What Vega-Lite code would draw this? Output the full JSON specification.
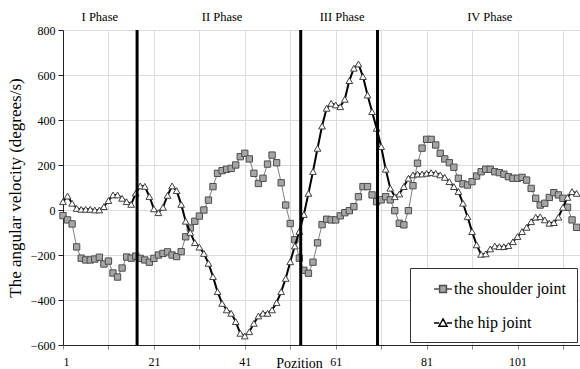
{
  "$schema": "https://vega.github.io/schema/vega-lite/v6.json",
  "autosize": {"type": "none"},
  "padding": {"left": 63, "top": 30, "right": 0, "bottom": 24},
  "width": 517,
  "height": 315,
  "config": {
    "font": "Liberation Serif",
    "view": {"stroke": null},
    "legend": {
      "orient": "none",
      "legendX": 347,
      "legendY": 238,
      "strokeColor": "#333",
      "fillColor": "#fff",
      "padding": 11,
      "labelFont": "Liberation Serif",
      "labelFontSize": 16,
      "labelColor": "#000",
      "symbolSize": 324,
      "symbolStrokeWidth": 1.5,
      "symbolOpacity": 1,
      "symbolOffset": 12,
      "rowPadding": 16,
      "labelOffset": 1,
      "title": null
    }
  },
  "datasets": {
    "joints": [
      {"p":1,"shoulder":-25,"hip":37},{"p":2,"shoulder":-44,"hip":62},{"p":3,"shoulder":-62,"hip":30},{"p":4,"shoulder":-164,"hip":7},{"p":5,"shoulder":-214,"hip":3},
      {"p":6,"shoulder":-222,"hip":3},{"p":7,"shoulder":-222,"hip":3},{"p":8,"shoulder":-218,"hip":0},{"p":9,"shoulder":-210,"hip":0},{"p":10,"shoulder":-240,"hip":15},
      {"p":11,"shoulder":-227,"hip":42},{"p":12,"shoulder":-280,"hip":67},{"p":13,"shoulder":-298,"hip":67},{"p":14,"shoulder":-258,"hip":52},{"p":15,"shoulder":-209,"hip":37},
      {"p":16,"shoulder":-214,"hip":25},{"p":17,"shoulder":-205,"hip":75},{"p":18,"shoulder":-215,"hip":107},{"p":19,"shoulder":-222,"hip":105},{"p":20,"shoulder":-232,"hip":60},
      {"p":21,"shoulder":-215,"hip":5},{"p":22,"shoulder":-200,"hip":-12},{"p":23,"shoulder":-193,"hip":12},{"p":24,"shoulder":-186,"hip":65},{"p":25,"shoulder":-200,"hip":107},
      {"p":26,"shoulder":-207,"hip":86},{"p":27,"shoulder":-185,"hip":25},{"p":28,"shoulder":-119,"hip":-50},{"p":29,"shoulder":-80,"hip":-100},{"p":30,"shoulder":-50,"hip":-145},
      {"p":31,"shoulder":-27,"hip":-165},{"p":32,"shoulder":0,"hip":-193},{"p":33,"shoulder":44,"hip":-237},{"p":34,"shoulder":104,"hip":-296},{"p":35,"shoulder":163,"hip":-363},
      {"p":36,"shoulder":175,"hip":-415},{"p":37,"shoulder":181,"hip":-444},{"p":38,"shoulder":185,"hip":-459},{"p":39,"shoulder":200,"hip":-496},{"p":40,"shoulder":237,"hip":-548},
      {"p":41,"shoulder":252,"hip":-560},{"p":42,"shoulder":227,"hip":-541},{"p":43,"shoulder":163,"hip":-504},{"p":44,"shoulder":118,"hip":-471},{"p":45,"shoulder":141,"hip":-459},
      {"p":46,"shoulder":204,"hip":-459},{"p":47,"shoulder":244,"hip":-444},{"p":48,"shoulder":210,"hip":-412},{"p":49,"shoulder":121,"hip":-363},{"p":50,"shoulder":22,"hip":-304},
      {"p":51,"shoulder":-60,"hip":-230},{"p":52,"shoulder":-132,"hip":-160},{"p":53,"shoulder":-214,"hip":-95},{"p":54,"shoulder":-268,"hip":-20},{"p":55,"shoulder":-281,"hip":74},
      {"p":56,"shoulder":-232,"hip":171},{"p":57,"shoulder":-146,"hip":274},{"p":58,"shoulder":-65,"hip":373},{"p":59,"shoulder":-41,"hip":452},{"p":60,"shoulder":-44,"hip":474},
      {"p":61,"shoulder":-44,"hip":467},{"p":62,"shoulder":-26,"hip":459},{"p":63,"shoulder":-12,"hip":492},{"p":64,"shoulder":-3,"hip":575},{"p":65,"shoulder":15,"hip":630},
      {"p":66,"shoulder":59,"hip":649},{"p":67,"shoulder":104,"hip":593},{"p":68,"shoulder":104,"hip":511},{"p":69,"shoulder":67,"hip":437},{"p":70,"shoulder":37,"hip":363},
      {"p":71,"shoulder":45,"hip":282},{"p":72,"shoulder":59,"hip":181},{"p":73,"shoulder":45,"hip":97},{"p":74,"shoulder":-3,"hip":59},{"p":75,"shoulder":-59,"hip":71},
      {"p":76,"shoulder":-66,"hip":104},{"p":77,"shoulder":-3,"hip":141},{"p":78,"shoulder":108,"hip":156},{"p":79,"shoulder":208,"hip":160},{"p":80,"shoulder":275,"hip":160},
      {"p":81,"shoulder":314,"hip":163},{"p":82,"shoulder":314,"hip":166},{"p":83,"shoulder":289,"hip":163},{"p":84,"shoulder":252,"hip":156},{"p":85,"shoulder":227,"hip":145},
      {"p":86,"shoulder":210,"hip":126},{"p":87,"shoulder":190,"hip":104},{"p":88,"shoulder":141,"hip":82},{"p":89,"shoulder":116,"hip":30},{"p":90,"shoulder":111,"hip":-30},
      {"p":91,"shoulder":126,"hip":-96},{"p":92,"shoulder":151,"hip":-155},{"p":93,"shoulder":170,"hip":-197},{"p":94,"shoulder":181,"hip":-195},{"p":95,"shoulder":181,"hip":-173},
      {"p":96,"shoulder":170,"hip":-160},{"p":97,"shoulder":166,"hip":-163},{"p":98,"shoulder":159,"hip":-163},{"p":99,"shoulder":148,"hip":-158},{"p":100,"shoulder":141,"hip":-141},
      {"p":101,"shoulder":141,"hip":-118},{"p":102,"shoulder":145,"hip":-96},{"p":103,"shoulder":133,"hip":-77},{"p":104,"shoulder":96,"hip":-52},{"p":105,"shoulder":52,"hip":-32},
      {"p":106,"shoulder":22,"hip":-30},{"p":107,"shoulder":30,"hip":-44},{"p":108,"shoulder":56,"hip":-59},{"p":109,"shoulder":77,"hip":-56},{"p":110,"shoulder":67,"hip":-32},
      {"p":111,"shoulder":52,"hip":12},{"p":112,"shoulder":12,"hip":56},{"p":113,"shoulder":-44,"hip":82},{"p":114,"shoulder":-77,"hip":74}
    ],
    "phaselines": [{"p":17.3},{"p":53.3},{"p":70.2}],
    "phases": [
      {"p":9.1,"v":858,"t":"I Phase"},
      {"p":36,"v":858,"t":"II Phase"},
      {"p":62.4,"v":858,"t":"III Phase"},
      {"p":94.9,"v":858,"t":"IV Phase"}
    ]
  },
  "encoding": {
    "x": {
      "field": "p", "type": "quantitative",
      "scale": {"domain": [1, 114.75], "nice": false, "zero": false},
      "axis": {
        "values": [1, 11, 21, 31, 41, 51, 61, 71, 81, 91, 101, 111],
        "labelExpr": "(datum.value - 1) % 20 == 0 ? datum.label : ''",
        "grid": true, "gridColor": "#dcdcdc", "gridWidth": 1,
        "domainColor": "#222", "domainWidth": 1,
        "tickColor": "#888", "tickSize": 4,
        "labelFontSize": 12, "labelColor": "#000", "labelPadding": 7,
        "title": "Pozition", "titleFontSize": 14, "titleFontWeight": "normal",
        "titleColor": "#000", "titleX": 236, "titleY": 22, "titleAlign": "center",
        "titleBaseline": "alphabetic"
      }
    },
    "y": {
      "field": "v", "type": "quantitative",
      "scale": {"domain": [-600, 800], "nice": false, "zero": false},
      "axis": {
        "values": [-600, -400, -200, 0, 200, 400, 600, 800],
        "grid": true, "gridColor": "#dcdcdc", "gridWidth": 1,
        "domainColor": "#222", "domainWidth": 1,
        "tickColor": "#222", "tickSize": 5,
        "labelFontSize": 12, "labelColor": "#000", "labelPadding": 3,
        "title": "The angular velocity (degrees/s)", "titleFontSize": 17,
        "titleFontWeight": "normal", "titleColor": "#000", "titleX": -43,
        "titleBaseline": "alphabetic"
      }
    }
  },
  "layer": [
    {
      "data": {"name": "joints"},
      "mark": {"type": "line", "stroke": "#808080", "strokeWidth": 1},
      "encoding": {"y": {"field": "shoulder", "type": "quantitative"}}
    },
    {
      "data": {"name": "joints"},
      "mark": {"type": "point", "shape": "square", "filled": true, "fill": "#a6a6a6", "stroke": "#4d4d4d", "strokeWidth": 1, "size": 40, "opacity": 1},
      "encoding": {"y": {"field": "shoulder", "type": "quantitative"}}
    },
    {
      "data": {"name": "joints"},
      "mark": {"type": "line", "stroke": "#000", "strokeWidth": 2},
      "encoding": {"y": {"field": "hip", "type": "quantitative"}}
    },
    {
      "data": {"name": "joints"},
      "mark": {"type": "point", "shape": "triangle-up", "filled": true, "fill": "#fff", "stroke": "#404040", "strokeWidth": 1, "size": 45, "opacity": 1},
      "encoding": {"y": {"field": "hip", "type": "quantitative"}}
    },
    {
      "data": {"name": "joints"},
      "transform": [{"fold": ["shoulder", "hip"], "as": ["joint", "v"]}],
      "mark": {"type": "point", "opacity": 0},
      "encoding": {
        "shape": {
          "field": "joint", "type": "nominal",
          "scale": {"domain": ["shoulder", "hip"], "range": ["M-1,0H-0.38M0.38,0H1M-0.38,-0.38H0.38V0.38H-0.38Z", "M-1,0H-0.42M0.42,0H1M0,-0.45L0.45,0.35H-0.45Z"]},
          "legend": {"labelExpr": "datum.value == 'shoulder' ? 'the shoulder joint        ' : 'the hip joint'"}
        },
        "fill": {
          "field": "joint", "type": "nominal",
          "scale": {"domain": ["shoulder", "hip"], "range": ["#a6a6a6", "#ffffff"]}
        },
        "stroke": {
          "field": "joint", "type": "nominal",
          "scale": {"domain": ["shoulder", "hip"], "range": ["#4d4d4d", "#000000"]}
        }
      }
    },
    {
      "data": {"name": "phaselines"},
      "mark": {"type": "rule", "stroke": "#000", "strokeWidth": 3},
      "encoding": {"y": null}
    },
    {
      "data": {"name": "phases"},
      "mark": {"type": "text", "fontSize": 12.5, "color": "#000", "baseline": "middle", "align": "center"},
      "encoding": {"text": {"field": "t"}}
    }
  ]
}
